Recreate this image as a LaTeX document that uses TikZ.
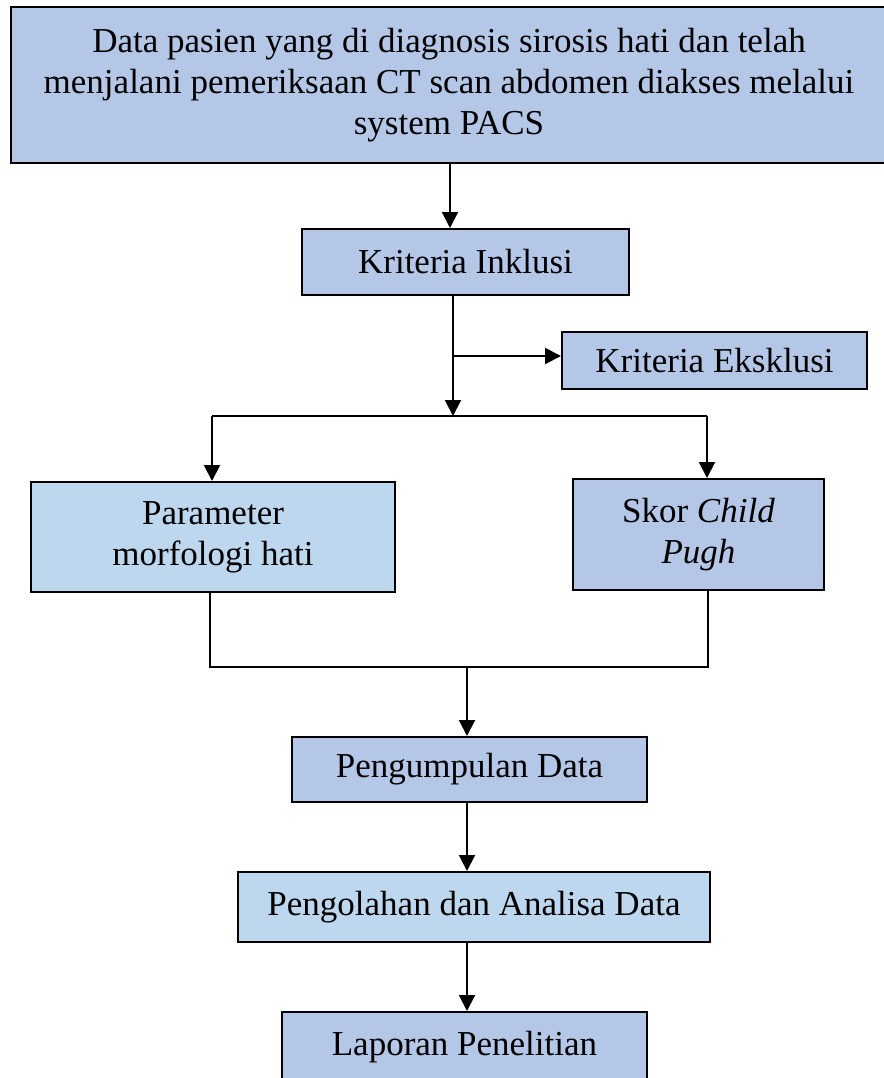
\documentclass[tikz,border=0pt]{standalone}
\usepackage{fontspec}
\setmainfont{Liberation Serif}
\usetikzlibrary{arrows.meta}
\definecolor{boxblue}{HTML}{B4C7E7}
\definecolor{paleblue}{HTML}{BDD7EE}

\begin{document}
\begin{tikzpicture}[
		x=0.5pt, y=-0.5pt,
		box/.style = {draw, line width=1pt, fill=boxblue, inner sep=0pt, align=center,
			font=\fontsize{17.5}{20.5}\selectfont},
		arr/.style = {line width=1pt, -{Triangle[length=8pt, width=8pt]}},
		link/.style = {line width=0.6pt}
	]
	\useasboundingbox (0,0) rectangle (884,1078);
	% Boxes.
	\node[box, minimum width=438pt, minimum height=78pt] (data) at (449,85)
		{Data pasien yang di diagnosis sirosis hati dan telah\\
		 menjalani pemeriksaan CT scan abdomen diakses melalui\\
		 system PACS};
	\node[box, minimum width=163.5pt, minimum height=33pt] (inklusi) at (465.5,262) {Kriteria Inklusi};
	\node[box, minimum width=152.5pt, minimum height=28.5pt] (eksklusi) at (714.5,360.5) {Kriteria Eksklusi};
	\node[box, fill=paleblue, minimum width=182pt, minimum height=55pt] (param) at (213,537)
		{Parameter\\morfologi hati};
	\node[box, minimum width=125.5pt, minimum height=55.5pt] (skor) at (698.5,534.5)
		{Skor \textit{Child}\\\textit{Pugh}};
	\node[box, minimum width=177.5pt, minimum height=32.5pt] (kumpul) at (469.5,769.5) {Pengumpulan Data};
	\node[box, fill=paleblue, minimum width=236pt, minimum height=35pt] (olah) at (474,907) {Pengolahan dan Analisa Data};
	\node[box, minimum width=182.5pt, minimum height=35pt] (lapor) at (464.5,1047) {Laporan Penelitian};
	% Junctions.
	\coordinate (top) at (450,0);
	\coordinate (split) at (453,356);
	\coordinate (busL) at (212,416);
	\coordinate (busR) at (707,416);
	\coordinate (joinL) at (210,667);
	\coordinate (joinR) at (708,667);
	\coordinate (join) at (467,667);

	\draw[arr] (data.south -| top) to (inklusi.north -| top);
	\draw[arr] (inklusi.south -| split) to (busL -| split);
	\draw[arr] (split) to (split -| eksklusi.west);
	\draw[line width=1pt] (busL) to (busR);
	\draw[arr] (busL) to (busL |- param.north);
	\draw[arr] (busR) to (busR |- skor.north);
	\draw[link] (param.south -| joinL) to (joinL) to (joinR) to (skor.south -| joinR);
	\draw[arr] (join) to (join |- kumpul.north);
	\draw[arr] (kumpul.south -| join) to (olah.north -| join);
	\draw[arr] (olah.south -| join) to (lapor.north -| join);
\end{tikzpicture}
\end{document}
